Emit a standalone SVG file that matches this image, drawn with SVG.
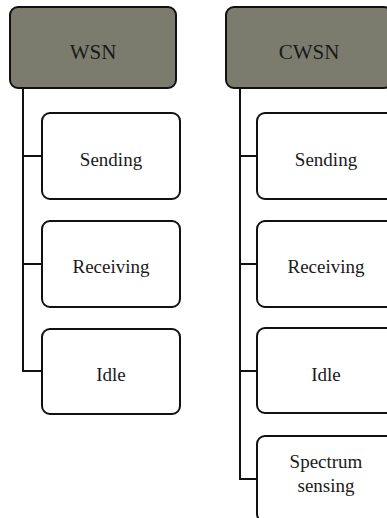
<svg xmlns="http://www.w3.org/2000/svg" width="387" height="518" viewBox="0 0 387 518">
<style>
.hd{fill:#7b7c6d;stroke:#111;stroke-width:2}
.bx{fill:#fff;stroke:#111;stroke-width:2}
.t{font-family:"Liberation Serif","Times New Roman",serif;font-size:19px;fill:#1a1a1a;text-anchor:middle}
.h{font-size:21px}
.c{fill:none;stroke:#111;stroke-width:2}
</style>
<rect width="387" height="518" fill="#fff"/>
<g id="connectors">
<path class="c" d="M23 88 V371 H42 M23 156 H42 M23 264 H42"/>
<path class="c" d="M240 88 V479 H257 M240 156 H257 M240 264 H257 M240 371 H257"/>
</g>
<g id="wsn"><rect class="hd" x="10" y="7" width="166" height="81" rx="8"/><text class="t h" x="93" y="59">WSN</text></g>
<g id="cwsn"><rect class="hd" x="226" y="7" width="166" height="81" rx="8"/><text class="t h" x="309" y="59">CWSN</text></g>
<g id="wsn-sending"><rect class="bx" x="42" y="113" width="138" height="86" rx="8"/><text class="t" x="111" y="166">Sending</text></g>
<g id="wsn-receiving"><rect class="bx" x="42" y="221" width="138" height="86" rx="8"/><text class="t" x="111" y="273">Receiving</text></g>
<g id="wsn-idle"><rect class="bx" x="42" y="329" width="138" height="85" rx="8"/><text class="t" x="111" y="381">Idle</text></g>
<g id="cwsn-sending"><rect class="bx" x="257" y="113" width="138" height="86" rx="8"/><text class="t" x="326" y="166">Sending</text></g>
<g id="cwsn-receiving"><rect class="bx" x="257" y="221" width="138" height="86" rx="8"/><text class="t" x="326" y="273">Receiving</text></g>
<g id="cwsn-idle"><rect class="bx" x="257" y="328" width="138" height="85" rx="8"/><text class="t" x="326" y="381">Idle</text></g>
<g id="cwsn-spectrum"><rect class="bx" x="257" y="436" width="138" height="86" rx="8"/><text class="t" x="326" y="468">Spectrum</text><text class="t" x="326" y="492">sensing</text></g>
</svg>
